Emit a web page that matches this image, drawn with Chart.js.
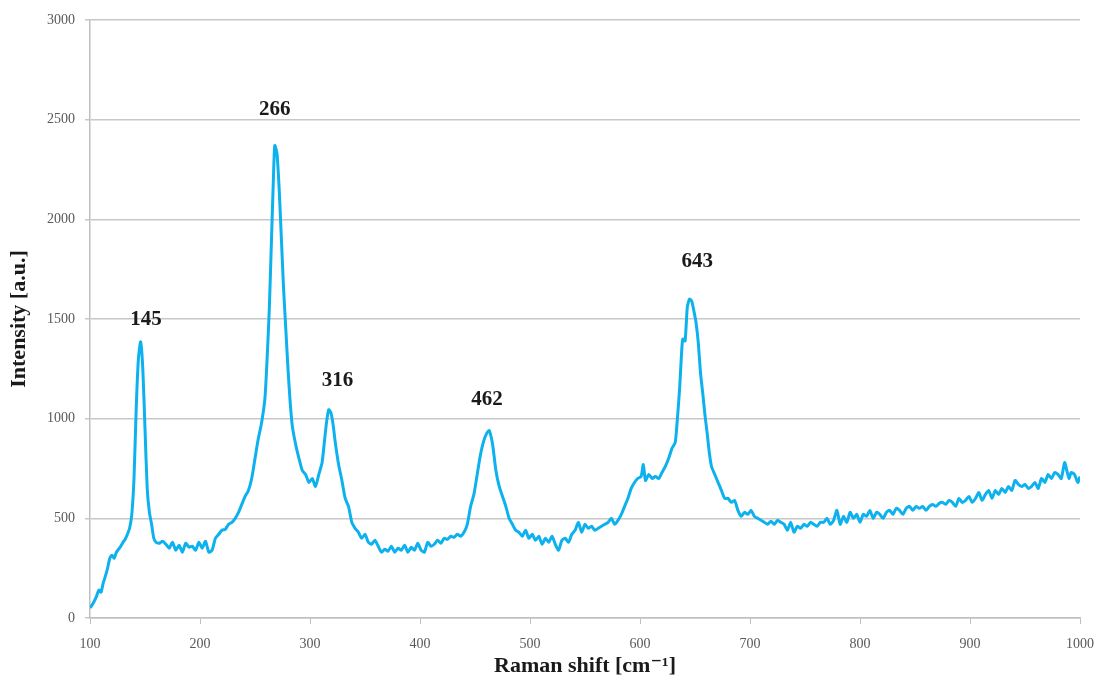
<!DOCTYPE html>
<html>
<head>
<meta charset="utf-8">
<script src="https://cdn.jsdelivr.net/npm/chart.js@4"></script>
<style>
  html, body { margin: 0; padding: 0; background: #fff; }
  #wrap { width: 1100px; height: 682px; }
</style>
</head>
<body>
<div id="wrap"><canvas id="ramanChart"></canvas></div>
<script>
// Raman shift (cm-1) and intensity (a.u.)
let shifts = [
    100,103,106,108,110,112,114,116,118,120,122,124,126,128,130,132,134,136,138,140,
    142,144,146,148,150,152,154,156,158,160,163,166,169,172,175,178,181,184,187,190,
    193,196,199,202,205,208,211,214,217,220,223,226,229,232,235,238,241,244,247,250,
    253,256,259,261,263,265,267,268,270,272,274,276,278,280,282,284,287,290,293,296,
    299,302,305,308,311,313,315,317,319,321,323,326,329,332,335,338,341,344,347,350,
    353,356,359,362,365,368,371,374,377,380,383,386,389,392,395,398,401,404,407,410,
    413,416,419,422,425,428,431,434,437,440,443,446,449,452,455,458,461,463,466,469,
    472,475,478,481,484,487,490,493,496,499,502,505,508,511,514,517,520,523,526,529,
    532,535,538,541,544,547,550,553,556,559,562,565,568,571,574,577,580,583,586,589,
    592,595,598,601,603,605,608,611,614,617,620,623,626,629,632,634,636,638,639,641,
    643,645,647,649,651,653,655,657,659,661,663,665,668,671,674,677,680,683,686,689,
    692,695,698,701,704,707,710,713,716,719,722,725,728,731,734,737,740,743,746,749,
    752,755,758,761,764,767,770,773,776,779,782,785,788,791,794,797,800,803,806,809,
    812,815,818,821,824,827,830,833,836,839,842,845,848,851,854,857,860,863,866,869,
    872,875,878,881,884,887,890,893,896,899,902,905,908,911,914,917,920,923,926,929,
    932,935,938,941,944,947,950,953,956,959,962,965,968,971,974,977,980,983,986,988,
    990,992,995,998,1000
];
let intensities = [
    50,75,110,140,130,175,210,250,300,315,300,330,345,360,380,395,420,450,520,700,
    1050,1300,1385,1250,950,650,530,470,400,380,375,385,370,350,380,340,365,330,375,355,
    360,340,380,350,385,330,340,400,420,440,445,470,480,500,530,570,610,640,700,800,
    900,980,1100,1300,1550,1900,2250,2370,2330,2150,1900,1650,1450,1250,1080,960,870,800,740,720,
    680,700,660,720,780,880,980,1045,1030,970,880,770,690,600,560,480,450,430,400,420,
    380,370,390,360,330,345,335,360,330,350,340,365,330,355,340,375,340,330,380,360,
    370,390,375,400,395,410,405,420,410,430,470,560,620,720,820,890,930,940,870,740,
    660,610,560,500,470,440,430,410,440,400,420,390,410,370,400,380,410,370,340,390,
    400,380,420,440,480,430,470,450,460,440,450,460,470,480,500,470,490,520,560,600,
    650,680,700,710,770,690,720,700,710,700,730,760,800,850,880,1000,1150,1350,1400,1390,
    1560,1600,1590,1540,1480,1380,1230,1130,1020,930,830,760,720,680,640,600,600,580,590,540,
    510,530,520,540,510,500,490,480,470,485,470,490,480,470,440,480,430,460,450,470,
    460,480,470,460,480,480,500,470,490,540,470,510,480,530,500,520,480,520,510,540,
    500,530,520,500,530,540,520,550,540,520,550,560,540,560,550,560,540,560,570,560,
    575,580,570,590,580,560,600,580,590,610,580,600,630,590,620,640,600,640,620,650,
    630,660,640,690,670,660,670,650,660,680,650,700,680,720,700,730,720,700,780,740,
    700,730,720,680,710
];

// peak annotations: text and where it sits (data coordinates)
let peakLabels = ['145', '266', '316', '462', '643'];
let peakLabelX = [151, 268, 325, 461, 652];
let peakLabelY = [1495, 2549, 1189, 1094, 1786];

let yTicks = [0, 500, 1000, 1500, 2000, 2500, 3000];
let xTicks = [100, 200, 300, 400, 500, 600, 700, 800, 900, 1000];

const serif = "'Liberation Serif', 'DejaVu Serif', serif";

function buildPoints() {
    return shifts.map((s, i) => ({ x: s, y: intensities[i] }));
}

const peakLabelPlugin = {
    id: 'peakLabels',
    afterDatasetsDraw(chart) {
        let ctx = chart.ctx;
        let xs = chart.scales.x;
        let ys = chart.scales.y;
        ctx.save();
        ctx.font = `bold 21px ${serif}`;
        ctx.fillStyle = '#1a1a1a';
        ctx.textAlign = 'center';
        ctx.textBaseline = 'middle';
        peakLabels.forEach((label, i) => {
            ctx.fillText(label, xs.getPixelForValue(peakLabelX[i]), ys.getPixelForValue(peakLabelY[i]));
        });
        ctx.restore();
    }
};

function fillRamanChart() {
    let canvas = document.getElementById('ramanChart').getContext('2d');
    let ramanChart = new Chart(canvas, {
        type: 'line',
        data: {
            datasets: [{
                label: 'Raman spectrum',
                data: buildPoints(),
                borderColor: '#0cb1ee',
                borderWidth: 3,
                pointRadius: 0,
                tension: 0.2,
                fill: false
            }]
        },
        options: {
            responsive: true,
            maintainAspectRatio: false,
            animation: false,
            layout: { padding: { top: 20, right: 0, left: 0, bottom: 0 } },
            plugins: {
                legend: { display: false },
                tooltip: { enabled: false }
            },
            scales: {
                x: {
                    type: 'linear',
                    min: 100,
                    max: 1000,
                    afterBuildTicks: axis => { axis.ticks = xTicks.map(v => ({ value: v })); },
                    afterFit: axis => {
                        axis.height = 64;
                        axis.paddingRight = 20;
                    },
                    grid: {
                        drawOnChartArea: false,
                        color: '#bfbfbf',
                        tickLength: 6
                    },
                    border: { color: '#bfbfbf', width: 1.5 },
                    ticks: {
                        color: '#595959',
                        font: { family: serif, size: 14 },
                        padding: 12,
                        maxRotation: 0,
                        callback: v => String(v)
                    },
                    title: {
                        display: true,
                        text: 'Raman shift [cm\u207B\u00B9]',
                        color: '#1a1a1a',
                        font: { family: serif, size: 22, weight: 'bold' },
                        padding: { top: 0, bottom: 2 }
                    }
                },
                y: {
                    min: 0,
                    max: 3000,
                    afterBuildTicks: axis => { axis.ticks = yTicks.map(v => ({ value: v })); },
                    afterFit: axis => { axis.width = 90; },
                    grid: {
                        color: '#c8c8c8',
                        lineWidth: 1.5,
                        tickLength: 5
                    },
                    border: { color: '#bfbfbf', width: 1.5 },
                    ticks: {
                        color: '#595959',
                        font: { family: serif, size: 14 },
                        padding: 10,
                        callback: v => String(v)
                    },
                    title: {
                        display: true,
                        text: 'Intensity [a.u.]',
                        color: '#1a1a1a',
                        font: { family: serif, size: 22, weight: 'bold' },
                        padding: { top: 6, bottom: 0 }
                    }
                }
            }
        },
        plugins: [peakLabelPlugin]
    });
}

fillRamanChart();
</script>
</body>
</html>
